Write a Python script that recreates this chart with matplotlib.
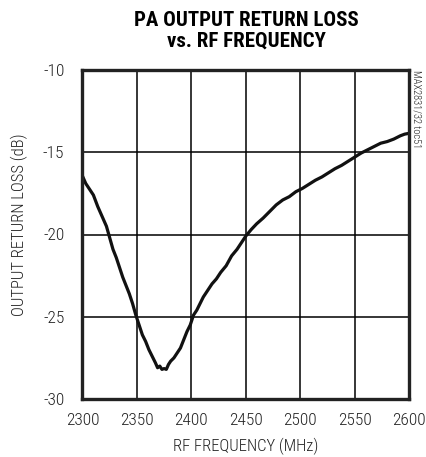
import matplotlib
matplotlib.use("Agg")
import matplotlib.pyplot as plt

freq = [2300, 2303, 2306, 2310, 2314, 2318, 2322, 2325, 2328, 2331, 2334, 2337, 2340, 2343,
        2346, 2349, 2352, 2355, 2358, 2361, 2364, 2367, 2369, 2371, 2373, 2375, 2377, 2379,
        2381, 2384, 2387, 2390, 2393, 2396, 2399, 2402, 2405, 2408, 2411, 2415, 2419, 2423,
        2427, 2432, 2437, 2442, 2446, 2450, 2455, 2460, 2466, 2472, 2478, 2484, 2490, 2496,
        2502, 2508, 2514, 2520, 2526, 2532, 2538, 2544, 2550, 2556, 2562, 2568, 2574, 2580,
        2586, 2592, 2596, 2600]
rl_db = [-16.45, -16.9, -17.2, -17.6, -18.3, -18.9, -19.5, -20.2, -20.9, -21.4, -22.0, -22.6,
         -23.1, -23.6, -24.2, -24.9, -25.5, -26.1, -26.5, -27.0, -27.4, -27.8, -28.1, -28.0,
         -28.2, -28.15, -28.2, -27.9, -27.7, -27.5, -27.2, -26.9, -26.4, -25.9, -25.5, -24.9,
         -24.6, -24.2, -23.8, -23.4, -23.0, -22.7, -22.3, -21.9, -21.3, -20.9, -20.5, -20.1,
         -19.7, -19.35, -19.0, -18.6, -18.2, -17.9, -17.7, -17.4, -17.2, -16.95, -16.7, -16.5,
         -16.25, -16.0, -15.8, -15.55, -15.3, -15.05, -14.85, -14.65, -14.45, -14.35, -14.2,
         -14.0, -13.9, -13.85]

x_ticks = [2300, 2350, 2400, 2450, 2500, 2550, 2600]
y_ticks = [-30, -25, -20, -15, -10]

FAM = ["Roboto Condensed", "Archivo Narrow", "DejaVu Sans"]

fig = plt.figure(figsize=(4.27, 4.57), dpi=100)
W, H = 427, 457
left, right, top, bottom = 82.5, 409, 70, 399
ax = fig.add_axes([left / W, 1 - bottom / H, (right - left) / W, (bottom - top) / H])

ax.plot(freq, rl_db, color="#111111", lw=2.3, solid_joinstyle="round")
ax.set_xlim(2300, 2600)
ax.set_ylim(-30, -10)
ax.set_xticks(x_ticks)
ax.set_yticks(y_ticks)
ax.set_xticklabels([str(v) for v in x_ticks], family=FAM, fontsize=12.5, color="#222222",
                   fontweight="light")
ax.set_yticklabels([str(v) for v in y_ticks], family=FAM, fontsize=12.5, color="#222222",
                   fontweight="light")
ax.tick_params(axis="x", length=0, pad=10)
ax.tick_params(axis="y", length=0, pad=13)
ax.grid(True, color="black", lw=1.1)
for s in ax.spines.values():
    s.set_linewidth(2.4)
    s.set_color("#222222")

fig.text(246 / W, 1 - 446 / H, "RF FREQUENCY (MHz)", ha="center", va="center",
         family=FAM, fontsize=12, color="#222222", fontweight="light")
fig.text(19 / W, 1 - 225 / H, "OUTPUT RETURN LOSS (dB)", ha="center", va="center",
         rotation=90, family=FAM, fontsize=12, color="#222222", fontweight="light")

fig.text(246 / W, 1 - 31 / H, "PA OUTPUT RETURN LOSS\nvs. RF FREQUENCY", ha="center", va="center",
         family=FAM, fontweight="heavy", fontsize=15, linespacing=1.1)
fig.text(417 / W, 1 - 70 / H, "MAX2831/32 toc51", rotation=270, ha="center", va="top",
         family=FAM, fontsize=7.5, color="#222222", fontweight="light")

fig.savefig("out.png", dpi=100)
